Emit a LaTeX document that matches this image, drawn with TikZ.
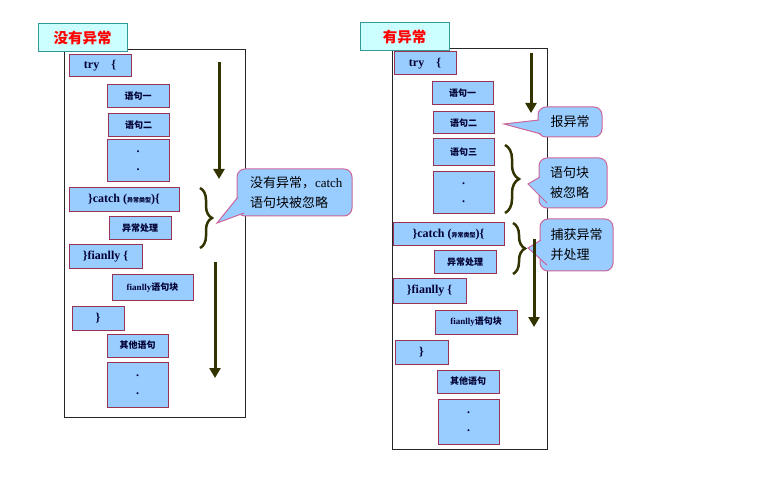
\documentclass[tikz,border=0pt]{standalone}
\usepackage{fontspec}
\setmainfont{Liberation Serif}
\newfontfamily\cjk{Noto Sans CJK SC}
\usetikzlibrary{arrows.meta,decorations.pathreplacing}

\definecolor{boxfill}{HTML}{99CCFF}
\definecolor{boxline}{HTML}{993355}
\definecolor{callline}{HTML}{CC6699}
\definecolor{titlefill}{HTML}{CCFFFF}
\definecolor{titleline}{HTML}{339999}
\definecolor{flow}{HTML}{333300}
\definecolor{ink}{HTML}{000033}

\tikzstyle{code} = [draw=boxline, fill=boxfill, line width=1pt, inner sep=0pt, text=ink, font=\bfseries\fontsize{12}{12}\selectfont]
\tikzstyle{stmt} = [code, font=\cjk\bfseries\fontsize{9}{9}\selectfont]
\tikzstyle{dots} = [code, align=center, font=\bfseries\fontsize{12}{18}\selectfont]
\tikzstyle{title} = [draw=titleline, fill=titlefill, line width=1pt, text=red, font=\cjk\bfseries\fontsize{14.5}{14.5}\selectfont]
\tikzstyle{frame} = [draw=black!85, line width=0.8pt]
\tikzstyle{callout} = [draw=callline, fill=boxfill, line width=1pt, rounded corners=8pt, align=left, inner sep=0pt, font=\cjk\fontsize{13}{20}\selectfont]
\tikzset{
  flowline/.style={draw=flow, line width=3pt, -{Triangle[width=11pt,length=10pt]}},
  bracket/.style={draw=flow, line width=2.5pt, decorate, decoration={brace, amplitude=#1}},
  bracket/.default=12pt,
  tail/.style={draw=callline, line width=1pt}
}

\begin{document}
\begin{tikzpicture}[x=1pt,y=-1pt]
  \useasboundingbox (0,0) rectangle (760,486);

  % left: no exception
  \draw[frame] (64,49) rectangle (245,417);
  \node[title, minimum width=89, minimum height=28] (ltitle) at (82.5,38) {没有异常};

  \node[code, minimum width=62, minimum height=22] (ltry) at (100,66) {try\quad\{};
  \node[stmt, minimum width=62, minimum height=23] (ls1) at (138,96.5) {语句一};
  \node[stmt, minimum width=61, minimum height=23] (ls2) at (138.5,125.5) {语句二};
  \node[dots, minimum width=62, minimum height=42] (ldots) at (138,161) {.\\.};
  \node[code, minimum width=110, minimum height=24] (lcatch) at (124,200) {\}catch ({\cjk\fontsize{6}{6}\selectfont 异常类型})\{};
  \node[stmt, minimum width=62, minimum height=23] (lhandle) at (140,228.5) {异常处理};
  \node[code, minimum width=73, minimum height=24] (lfin) at (105.5,257) {\}fianlly \{};
  \node[code, minimum width=81, minimum height=25, font=\bfseries\fontsize{9}{9}\selectfont] (lfinblk) at (152.5,287.5) {fianlly{\cjk 语句块}};
  \node[code, minimum width=52, minimum height=24] (lend) at (98,318) {\}};
  \node[stmt, minimum width=61, minimum height=23] (lother) at (137.5,345.5) {其他语句};
  \node[dots, minimum width=61, minimum height=45] (ldots2) at (137.5,384.5) {.\\.};

  \coordinate (la1) at (219,62);
  \coordinate (la2) at (219,179);
  \coordinate (lb1) at (215,262);
  \coordinate (lb2) at (215,378);
  \draw[flowline] (la1) -- (la2);
  \draw[flowline] (lb1) -- (lb2);

  \coordinate (lbr1) at (200,188);
  \coordinate (lbr2) at (200,248);
  \draw[bracket] (lbr1) -- (lbr2);

  \node[callout, minimum width=115, minimum height=47, text width=89] (lcall) at (294.5,192.5) {没有异常，{\rmfamily catch}\\语句块被忽略};
  \coordinate (ltip) at (217,223);
  \coordinate (lcA) at (238,197);
  \coordinate (lcB) at (244,213);
  \fill[boxfill] (lcA) -- (ltip) -- (lcB) -- cycle;
  \draw[tail] (lcA) -- (ltip) -- (lcB);

  % right: with exception
  \draw[frame] (392,48) rectangle (547,449);
  \node[title, minimum width=89, minimum height=28] (rtitle) at (404.5,37) {有异常};

  \node[code, minimum width=62, minimum height=23] (rtry) at (425,63.5) {try\quad\{};
  \node[stmt, minimum width=61, minimum height=23] (rs1) at (462.5,93.5) {语句一};
  \node[stmt, minimum width=61, minimum height=22] (rs2) at (463.5,123) {语句二};
  \node[stmt, minimum width=61, minimum height=27] (rs3) at (463.5,152.5) {语句三\hspace{12pt}};
  \node[dots, minimum width=61, minimum height=42] (rdots) at (463.5,193) {.\\.};
  \node[code, minimum width=111, minimum height=23] (rcatch) at (448.5,234.5) {\}catch ({\cjk\fontsize{6}{6}\selectfont 异常类型})\{};
  \node[stmt, minimum width=62, minimum height=23] (rhandle) at (465,262.5) {异常处理};
  \node[code, minimum width=73, minimum height=24] (rfin) at (429.5,291) {\}fianlly \{};
  \node[code, minimum width=82, minimum height=24, font=\bfseries\fontsize{9}{9}\selectfont] (rfinblk) at (476,322) {fianlly{\cjk 语句块}};
  \node[code, minimum width=53, minimum height=24] (rend) at (421.5,352) {\}};
  \node[stmt, minimum width=62, minimum height=23] (rother) at (468,381.5) {其他语句};
  \node[dots, minimum width=61, minimum height=45] (rdots2) at (468.5,421.5) {.\\.};

  \coordinate (ra1) at (531,53);
  \coordinate (ra2) at (531,113);
  \draw[flowline] (ra1) -- (ra2);

  \coordinate (rbr1) at (505,145);
  \coordinate (rbr2) at (505,213);
  \draw[bracket=14pt] (rbr1) -- (rbr2);
  \coordinate (rbr3) at (513,223);
  \coordinate (rbr4) at (513,274);
  \draw[bracket] (rbr3) -- (rbr4);

  \node[callout, minimum width=64, minimum height=30] (rcall1) at (570,122) {报异常};
  \coordinate (rtip1) at (504,124);
  \coordinate (r1A) at (539,120);
  \coordinate (r1B) at (541,134);
  \fill[boxfill] (r1A) -- (rtip1) -- (r1B) -- cycle;
  \draw[tail] (r1A) -- (rtip1) -- (r1B);

  \node[callout, minimum width=68, minimum height=50, text width=46] (rcall2) at (573,183) {语句块\\被忽略};
  \coordinate (rtip2) at (528,184);
  \coordinate (r2A) at (540,177);
  \coordinate (r2B) at (547,203);
  \fill[boxfill] (r2A) -- (rtip2) -- (r2B) -- cycle;
  \draw[tail] (r2A) -- (rtip2) -- (r2B);

  \node[callout, minimum width=73, minimum height=52, text width=52] (rcall3) at (576.5,245) {捕获异常\\并处理};
  \coordinate (rtip3) at (528,248);
  \coordinate (r3A) at (541,240);
  \coordinate (r3B) at (547,265);
  \fill[boxfill] (r3A) -- (rtip3) -- (r3B) -- cycle;
  \draw[tail] (r3A) -- (rtip3) -- (r3B);

  \coordinate (rb1) at (534,239);
  \coordinate (rb2) at (534,327);
  \draw[flowline] (rb1) -- (rb2);

\end{tikzpicture}
\end{document}
